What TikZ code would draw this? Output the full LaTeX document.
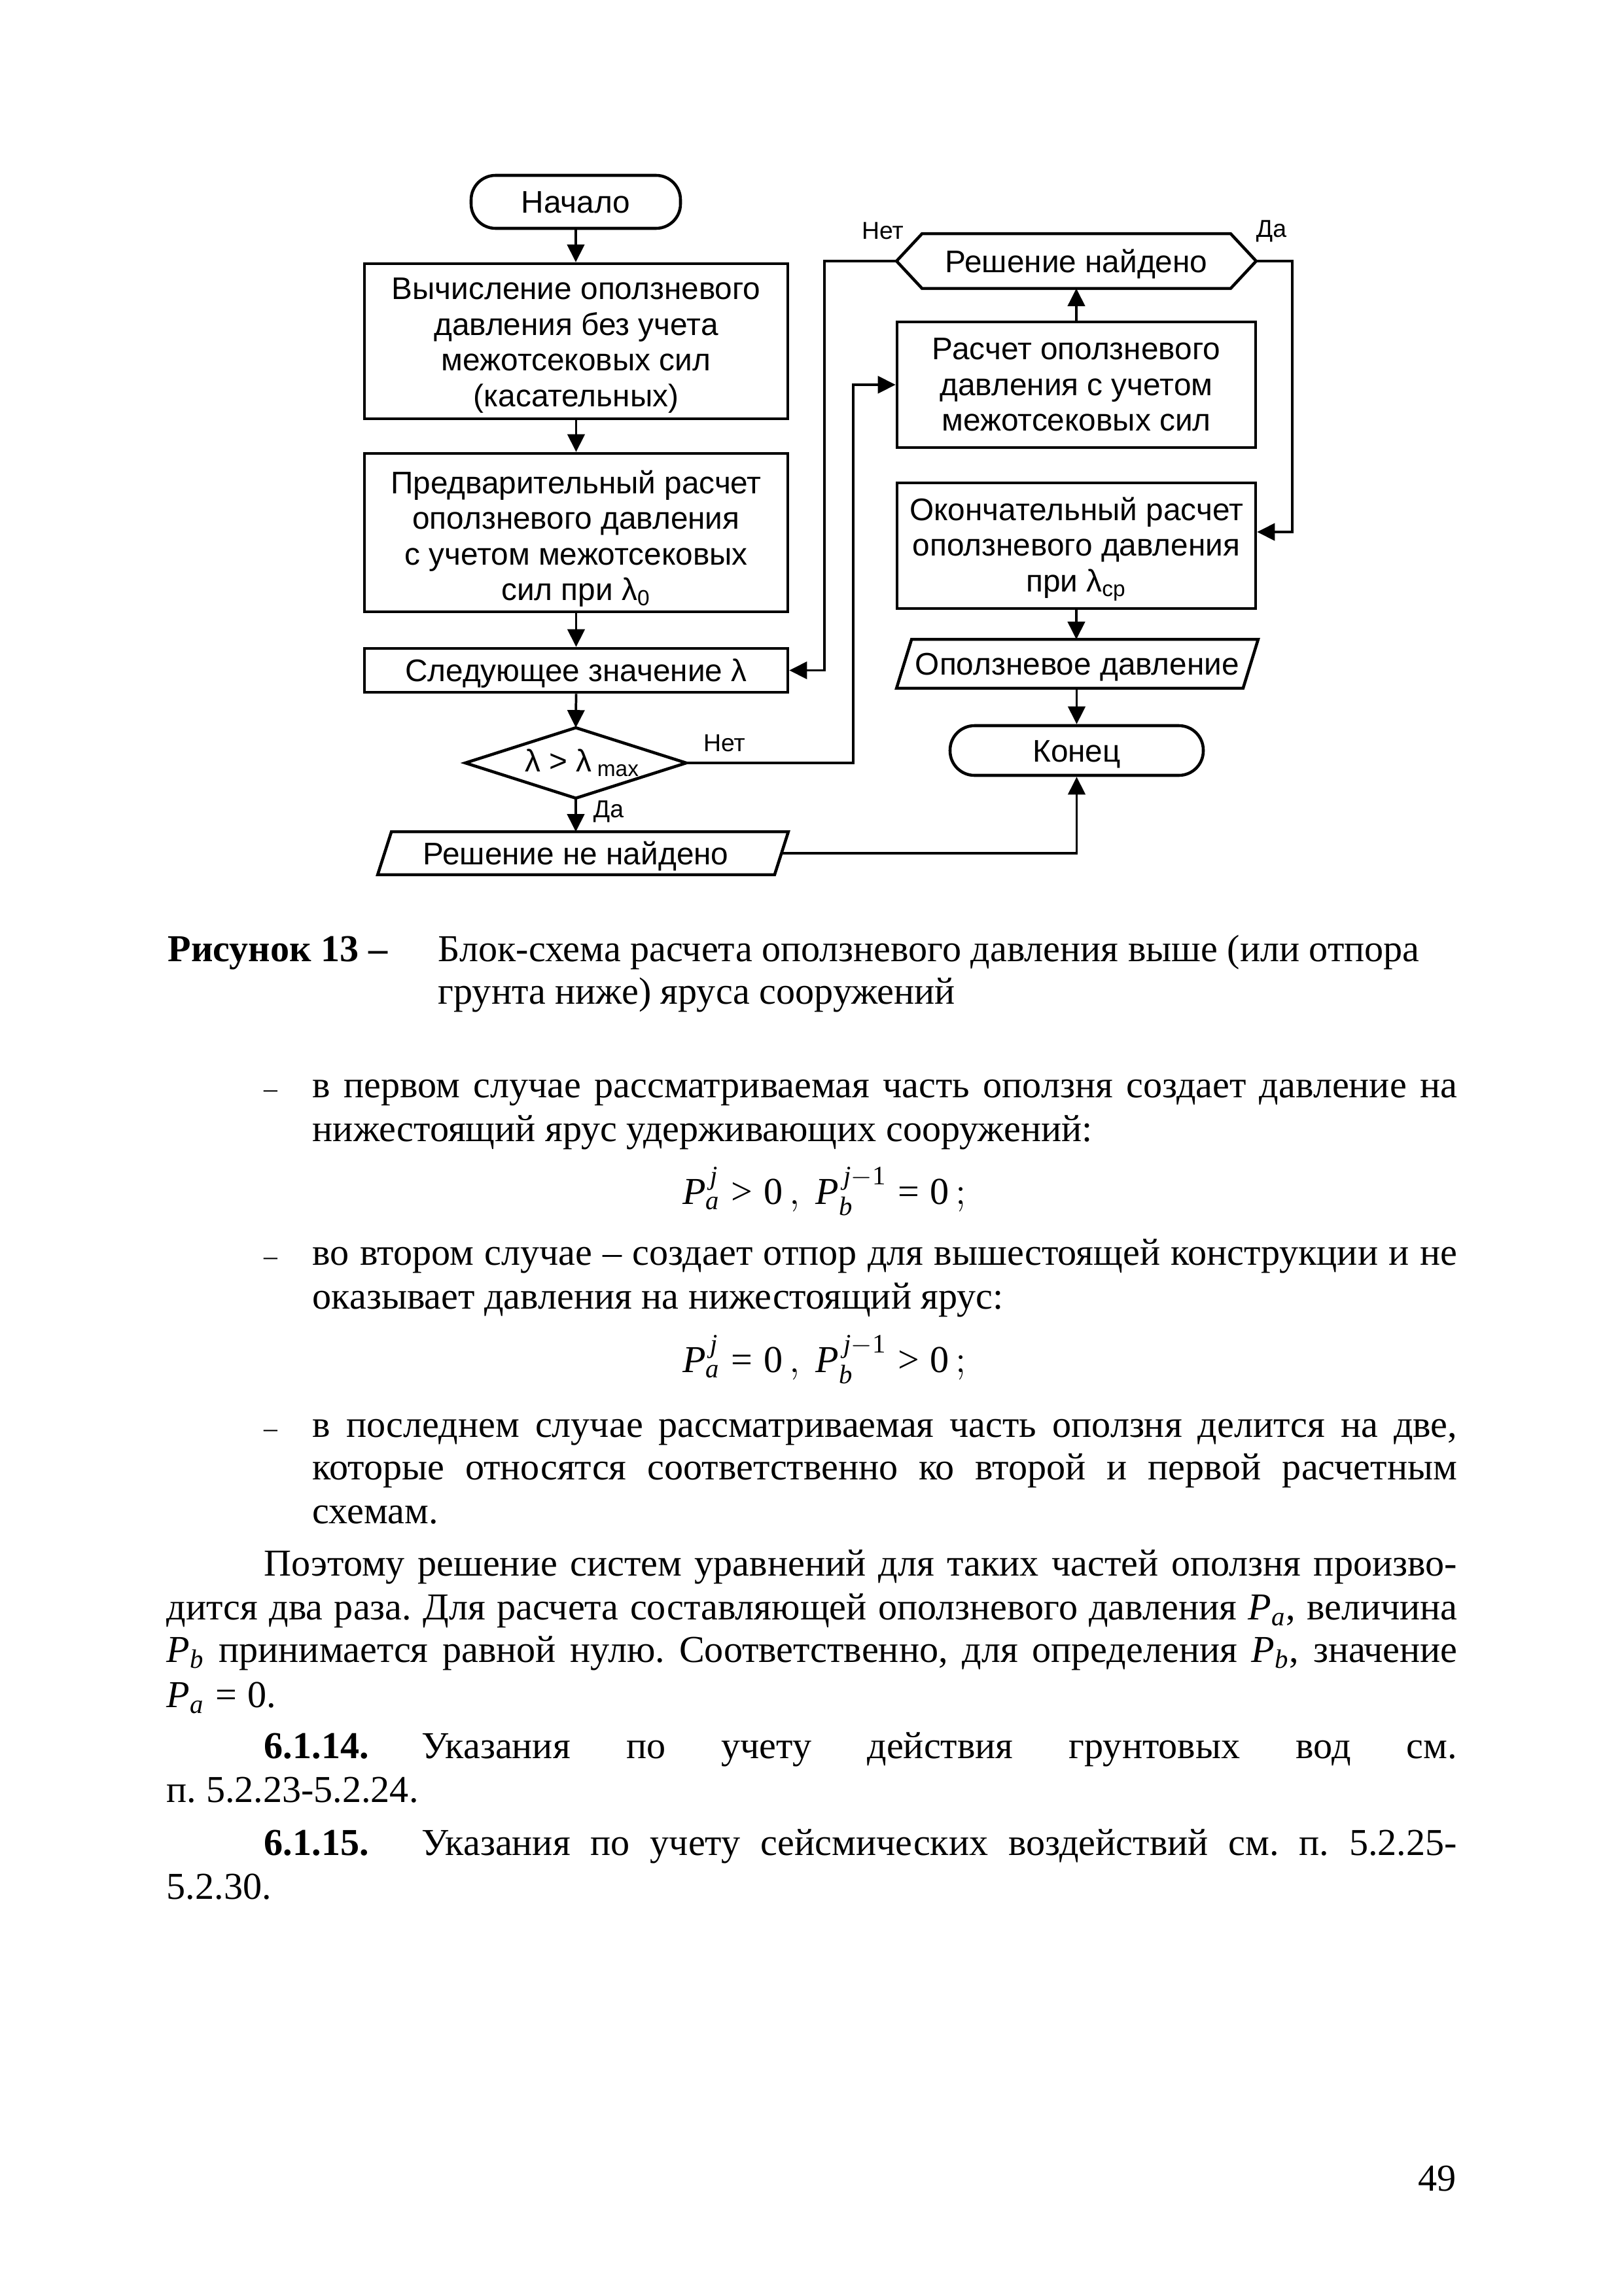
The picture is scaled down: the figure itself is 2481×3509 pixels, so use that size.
\documentclass[tikz,border=0pt]{standalone}
\usepackage{fontspec}
\usepackage{amsmath}
\setmainfont{Liberation Serif}
\newfontfamily\arial{Liberation Sans}
\usetikzlibrary{arrows.meta,calc}
\def\px{0.08464mm}
\newcommand{\mygt}{\mathrel{\text{>}}}
\newcommand{\myeq}{\mathrel{\text{=}}}
\frenchspacing
\begin{document}
\begin{tikzpicture}[x=0.08464mm,y=-0.08464mm,
  fc/.style={font=\arial\fontsize{11.5}{13.1}\selectfont},
  box/.style={fc, draw, line width=1.1pt, rectangle, inner sep=0pt, align=center},
  one/.style={text height=8.2pt, text depth=0pt},
  shp/.style={fc, inner sep=0pt, align=center},
  outl/.style={line width=1.1pt, line join=miter},
  arr/.style={line width=0.9pt, -{Triangle[length=6.5pt,width=6.3pt]}},
  lbl/.style={font=\arial\fontsize{9}{11}\selectfont, inner sep=0pt},
  body/.style={font=\fontsize{14}{16}\selectfont, inner sep=0pt, anchor=base west},
  formula/.style={font=\fontsize{14}{16}\selectfont, inner sep=0pt, anchor=base},
  dashmark/.style={font=\fontsize{10}{12}\selectfont, inner sep=0pt, anchor=base west},
]
\useasboundingbox[fill=white] (0,0) rectangle (2481,3509);

% ---------- left column ----------
\node[box, one, rounded corners=9pt, minimum width={320*\px}, minimum height={81*\px}] (start) at (880,308.5) {Начало};
\node[box, minimum width={647*\px}, minimum height={237*\px}] (b1) at (880.5,521.5)
  {\rule{0pt}{11pt}Вычисление оползневого\\давления без учета\\межотсековых сил\\(касательных)};
\node[box, minimum width={647*\px}, minimum height={242*\px}] (b2) at (880.5,814)
  {\rule{0pt}{13pt}Предварительный расчет\\оползневого давления\\с учетом межотсековых\\сил при λ\textsubscript{0}};
\node[box, one, minimum width={647*\px}, minimum height={67*\px}] (b3) at (880.5,1024.5)
  {Следующее значение λ};
\node[shp, minimum width={336*\px}, minimum height={106*\px}] (dia) at (880,1166)
  {\makebox[0pt]{\hspace{5pt}λ > λ\,\textsubscript{max}}};
\draw[outl] (dia.north) -- (dia.east) -- (dia.south) -- (dia.west) -- cycle;
\node[shp, one, minimum width={626*\px}, minimum height={64*\px}] (nf) at (891,1304)
  {\makebox[0pt]{Решение не найдено\hspace{5.3pt}}};
\draw[outl] ($(nf.north west)+(21,0)$) -- (nf.north east) -- ($(nf.south east)+(-21,0)$) -- (nf.south west) -- cycle;

% ---------- right column ----------
\node[shp, one, minimum width={548*\px}, minimum height={82*\px}] (found) at (1645,399) {Решение найдено};
\draw[outl] (found.west) -- ($(found.north west)+(39,0)$) -- ($(found.north east)+(-39,0)$)
  -- (found.east) -- ($(found.south east)+(-39,0)$) -- ($(found.south west)+(39,0)$) -- cycle;
\node[box, minimum width={548*\px}, minimum height={192*\px}] (calc) at (1645,588)
  {Расчет оползневого\\давления с учетом\\межотсековых сил};
\node[box, minimum width={548*\px}, minimum height={192*\px}] (fin) at (1645,834)
  {\rule{0pt}{11pt}Окончательный расчет\\оползневого давления\\при λ\textsubscript{ср}};
\node[shp, one, minimum width={551*\px}, minimum height={73*\px}] (outp) at (1646.5,1014.5) {Оползневое давление};
\draw[outl] ($(outp.north west)+(23,0)$) -- (outp.north east) -- ($(outp.south east)+(-23,0)$) -- (outp.south west) -- cycle;
\node[box, one, rounded corners=9pt, minimum width={387*\px}, minimum height={76*\px}] (end) at (1645.5,1147) {Конец};

% ---------- connectors ----------
\coordinate (n1) at (1304,1166);
\coordinate (n2) at (1260,399);
\coordinate (n3) at (1975,399);
\coordinate (n4) at (1975,813);
\coordinate (nfr) at ($(nf.east)+(-10.5,0)$);

\draw[arr] (start.south) -- (start.south |- b1.north);
\draw[arr] (b1.south) -- (b2.north);
\draw[arr] (b2.south) -- (b3.north);
\draw[arr] (b3.south) -- (dia.north);
\draw[arr] (dia.south) -- (dia.south |- nf.north);
\draw[arr] (dia.east) -- (n1) |- (calc.west);
\draw[arr] (calc.north) -- (found.south);
\draw[arr] (found.west) -- (n2) |- (b3.east);
\draw[arr] (found.east) -- (n3) -- (n4) -- (n4 -| fin.east);
\draw[arr] (fin.south) -- (fin.south |- outp.north);
\draw[arr] (end.north |- outp.south) -- (end.north);
\draw[arr] (nfr) -| (end.south);

\node[lbl] (lnet1) at (1349,353) {Нет};
\node[lbl] (lda1) at (1943,353) {Да};
\node[lbl] (lnet2) at (1107,1136) {Нет};
\node[lbl] (lda2) at (930,1240) {Да};

% ---------- text ----------
\node[body] (cap1) at (256,1469) {\textbf{Рисунок 13 –}};
\node[body] (cap2) at (669,1469) {Блок-схема расчета оползневого давления выше (или отпора};
\node[body] (cap3) at (669,1534) {грунта ниже) яруса сооружений};

\node[dashmark] (d1) at (403,1677) {–};
\node[body] (t1) at (477,1677) {\makebox[421.2pt][s]{в первом случае рассматриваемая часть оползня создает давление на}};
\node[body] (t2) at (477,1744) {нижестоящий ярус удерживающих сооружений:};
\node[formula] (f1) at (1260,1840)
  {$\textit{P}^{\,\textit{j}}_{\textit{a}}\mygt\text{0}\,,\ \textit{P}^{\,\textit{j}-\text{1}}_{\textit{b}}\myeq\text{0}\,;$};

\node[dashmark] (d2) at (403,1933) {–};
\node[body] (t3) at (477,1933) {\makebox[421.2pt][s]{во втором случае – создает отпор для вышестоящей конструкции и не}};
\node[body] (t4) at (477,2000) {оказывает давления на нижестоящий ярус:};
\node[formula] (f2) at (1260,2097)
  {$\textit{P}^{\,\textit{j}}_{\textit{a}}\myeq\text{0}\,,\ \textit{P}^{\,\textit{j}-\text{1}}_{\textit{b}}\mygt\text{0}\,;$};

\node[dashmark] (d3) at (403,2196) {–};
\node[body] (t5) at (477,2196) {\makebox[421.2pt][s]{в последнем случае рассматриваемая часть оползня делится на две,}};
\node[body] (t6) at (477,2261) {\makebox[421.2pt][s]{которые относятся соответственно ко второй и первой расчетным}};
\node[body] (t7) at (477,2328) {схемам.};

\node[body] (t8) at (403,2408) {\makebox[439pt][s]{Поэтому решение систем уравнений для таких частей оползня произво-}};
\node[body] (t9) at (254,2475) {\makebox[475.1pt][s]{дится два раза. Для расчета составляющей оползневого давления \textit{P}\textsubscript{\textit{a}}, величина}};
\node[body] (t10) at (254,2540) {\makebox[475.1pt][s]{\textit{P}\textsubscript{\textit{b}} принимается равной нулю. Соответственно, для определения \textit{P}\textsubscript{\textit{b}}, значение}};
\node[body] (t11) at (254,2609) {$\textit{P}_{\textit{a}}\myeq\text{0}$.};

\node[body] (t12) at (403,2687) {\textbf{6.1.14.}};
\node[body] (t13) at (644,2687) {\makebox[381pt][s]{Указания по учету действия грунтовых вод см.}};
\node[body] (t14) at (254,2754) {п. 5.2.23-5.2.24.};

\node[body] (t15) at (403,2835) {\textbf{6.1.15.}};
\node[body] (t16) at (644,2835) {\makebox[381pt][s]{Указания по учету сейсмических воздействий см. п. 5.2.25-}};
\node[body] (t17) at (254,2902) {5.2.30.};

\node[formula, anchor=base east] (pg) at (2226,3348) {49};
\end{tikzpicture}
\end{document}
